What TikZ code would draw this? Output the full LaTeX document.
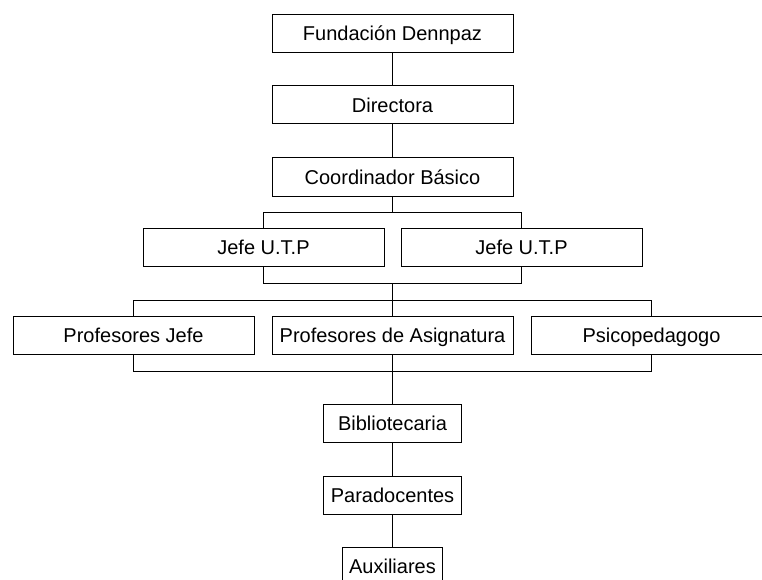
\documentclass[tikz,border=0pt]{standalone}
\usepackage{fontspec}
\setmainfont{Liberation Sans}
\begin{document}
\begin{tikzpicture}[x=1pt,y=-1pt,
  box/.style={draw=black,line width=1pt,fill=white,inner sep=0pt,
    minimum height=38pt,text height=14.2pt,text depth=0pt,
    font=\fontsize{20}{24}\selectfont},
  wide/.style={box,minimum width=241pt},
  mid/.style={box,minimum width=138pt},
  conn/.style={draw=black,line width=1pt}]
\useasboundingbox (0,0) rectangle (762,580);
\clip (0,0) rectangle (762,580);
\fill[white] (0,0) rectangle (762,580);
\node[wide] (fun) at (392.5,33.5) {Fundación Dennpaz};
\node[wide] (dir) at (392.5,105) {Directora};
\node[wide] (coo) at (392.5,177) {Coordinador Básico};
\node[wide] (j1) at (263.5,247.5) {Jefe U.T.P};
\node[wide] (j2) at (521.5,247.5) {Jefe U.T.P};
\node[wide] (p1) at (133.5,335.5) {Profesores Jefe};
\node[wide] (p2) at (392.5,335.5) {Profesores de Asignatura};
\node[wide] (p3) at (651.5,335.5) {Psicopedagogo};
\node[mid] (bib) at (392.5,423.5) {Bibliotecaria};
\node[mid] (par) at (392.5,495) {Paradocentes};
\node[box,minimum width=100pt] (aux) at (392.5,566.5) {Auxiliares};
\coordinate (b1) at (392.5,212.5);
\coordinate (b2) at (392.5,283.5);
\coordinate (b3) at (392.5,300.5);
\coordinate (b4) at (392.5,371.5);
\draw[conn] (fun.south) -- (dir.north);
\draw[conn] (dir.south) -- (coo.north);
\draw[conn] (coo.south) -- (b1);
\draw[conn] (j1.north) -- (j1.north |- b1) -- (j2.north |- b1) -- (j2.north);
\draw[conn] (j1.south) -- (j1.south |- b2) -- (j2.south |- b2) -- (j2.south);
\draw[conn] (b2) -- (b3);
\draw[conn] (p1.north) -- (p1.north |- b3) -- (p3.north |- b3) -- (p3.north);
\draw[conn] (b3) -- (p2.north);
\draw[conn] (p1.south) -- (p1.south |- b4) -- (p3.south |- b4) -- (p3.south);
\draw[conn] (p2.south) -- (b4);
\draw[conn] (b4) -- (bib.north);
\draw[conn] (bib.south) -- (par.north);
\draw[conn] (par.south) -- (aux.north);
\end{tikzpicture}
\end{document}
